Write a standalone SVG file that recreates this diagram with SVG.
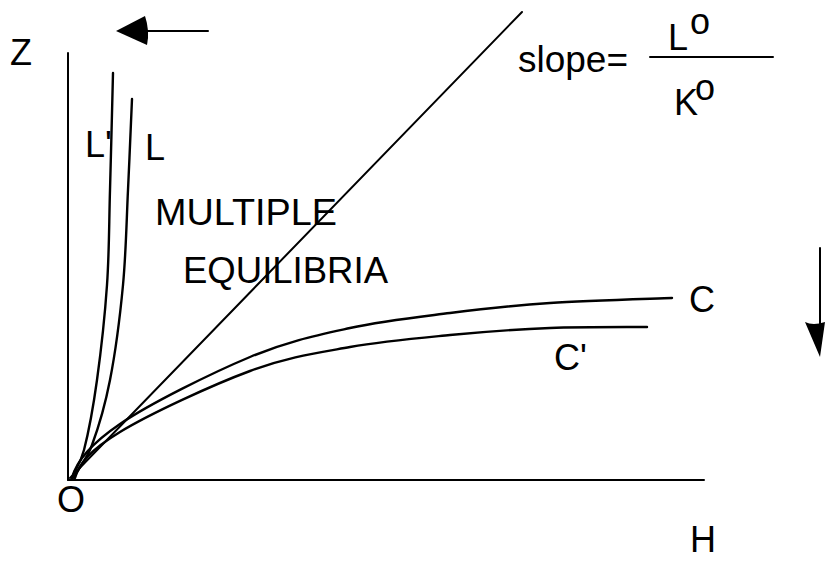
<svg xmlns="http://www.w3.org/2000/svg" width="825" height="561" viewBox="0 0 825 561">
<style>
  .ln{fill:none;stroke:#000;stroke-width:2;stroke-linecap:round;stroke-linejoin:round}
  .cv{fill:none;stroke:#000;stroke-width:2.4;stroke-linecap:round}
  .t{font-family:"Liberation Sans",Arial,sans-serif;font-size:36px;fill:#000}
</style>
<rect width="825" height="561" fill="#fff"/>
<g id="axes">
  <line class="ln" x1="68" y1="53" x2="68" y2="480"/>
  <line class="ln" x1="68" y1="480" x2="704" y2="480"/>
  <text class="t" x="10" y="65">Z</text>
  <text class="t" x="57" y="512">O</text>
  <text class="t" x="690" y="552">H</text>
</g>
<g id="connectors">
  <line class="ln" x1="70" y1="478" x2="522" y2="12"/>
  <path id="curve-Lp" class="cv" d="M72,478 C74,470 79.8,466.3 84,450 C88.2,433.7 93.2,407.5 97,380 C100.8,352.5 104.8,316.7 107,285 C109.2,253.3 109,225.3 110,190 C111,154.7 112.5,92.5 113,73"/>
  <path id="curve-L" class="cv" d="M74,478 C78,468 86,461.3 92,445 C98,428.7 104.8,406.7 110,380 C115.2,353.3 120,316.7 123,285 C126,253.3 126.5,221 128,190 C129.5,159 131.3,114.2 132,99"/>
  <path id="curve-C" class="cv" d="M72,478 C76,462 90.3,444.2 120,424 C149.7,403.8 211.7,373 250,357 C288.3,341 316.7,335.3 350,328 C383.3,320.7 416.7,317.2 450,313 C483.3,308.8 513,305.5 550,303 C587,300.5 651.7,298.8 672,298"/>
  <path id="curve-Cp" class="cv" d="M75,478 C79,463 90.8,449.8 120,432 C149.2,414.2 211.7,385.2 250,371 C288.3,356.8 316.7,353 350,347 C383.3,341 416.7,338.2 450,335 C483.3,331.8 517.2,329.3 550,328 C582.8,326.7 630.8,327.2 647,327"/>
  <line class="ln" x1="208" y1="31" x2="140" y2="31"/>
  <path d="M116,31 L145,16 Q150,31 147,45 Z" fill="#000"/>
  <line class="ln" x1="820" y1="248" x2="820" y2="330"/>
  <path d="M820,357 L805,322 Q813,326 825,322 Z" fill="#000"/>
</g>
<g id="label-Lp"><text class="t" x="85" y="157">L'</text></g>
<g id="label-L"><text class="t" x="145" y="160">L</text></g>
<g id="label-multiple">
  <text class="t" x="155" y="225" textLength="182" lengthAdjust="spacingAndGlyphs">MULTIPLE</text>
  <text class="t" x="183" y="283" textLength="205" lengthAdjust="spacingAndGlyphs">EQUILIBRIA</text>
</g>
<g id="label-slope">
  <text class="t" x="518" y="72" textLength="110" lengthAdjust="spacingAndGlyphs">slope=</text>
  <text class="t" x="668" y="50">L</text>
  <text class="t" x="690" y="34">o</text>
  <line class="ln" x1="650" y1="57" x2="773" y2="57"/>
  <text class="t" x="674" y="115">K</text>
  <text class="t" x="695" y="100">o</text>
</g>
<g id="label-C"><text class="t" x="689" y="312">C</text></g>
<g id="label-Cp"><text class="t" x="554" y="370">C'</text></g>
</svg>
